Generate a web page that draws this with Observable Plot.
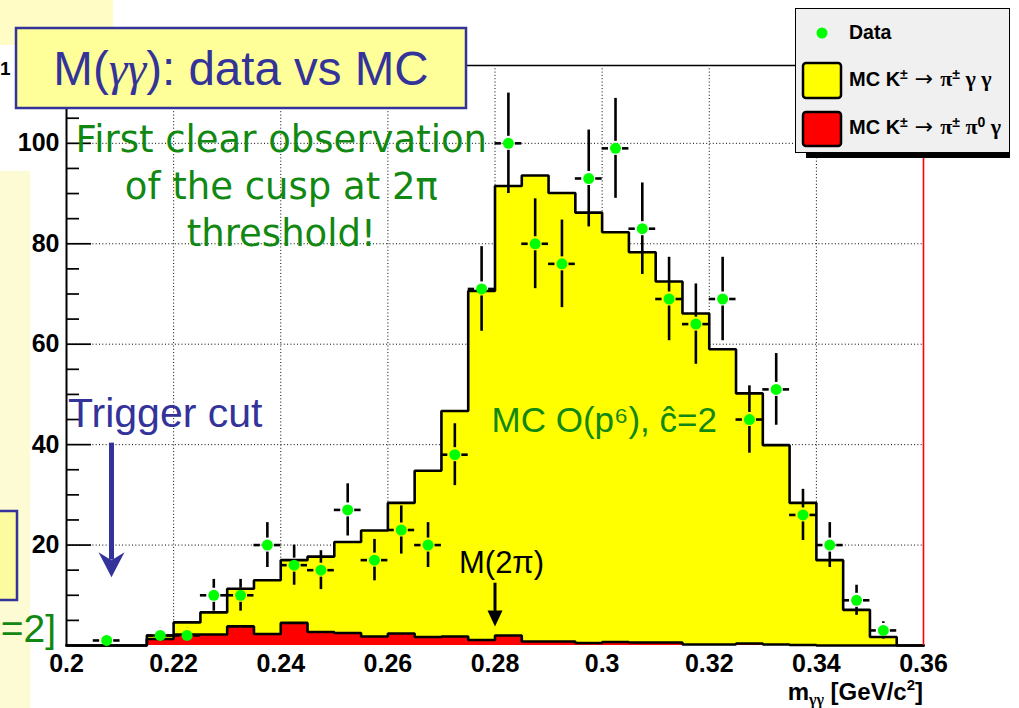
<!DOCTYPE html>
<html>
<head>
<meta charset="utf-8">
<script src="https://cdn.jsdelivr.net/npm/d3@7"></script>
<script src="https://cdn.jsdelivr.net/npm/@observablehq/plot@0.6"></script>
<style>
  html, body { margin: 0; padding: 0; background: #ffffff; }
  #page { position: relative; width: 1019px; height: 708px; overflow: hidden; font-family: "Liberation Sans", Arial, sans-serif; }
  #page > svg { position: absolute; left: 0; top: 0; }
</style>
</head>
<body>
<div id="page">
  <!-- slide background pieces -->
  <svg id="back" width="1019" height="708">
    <rect x="0" y="0" width="113" height="45" fill="#fffcc6"/>
    <rect x="0" y="171" width="30" height="537" fill="#fdfbd4"/>
    <rect x="-10" y="511" width="27" height="89" fill="#fdfba0" stroke="#333399" stroke-width="2.5"/>
    <text x="56" y="642" text-anchor="end" font-family="Liberation Sans" font-size="39" fill="#118811">=2]</text>
    <text x="0" y="75" text-anchor="start" font-family="Liberation Sans" font-weight="bold" font-size="19" fill="#000">1</text>
  </svg>
</div>
<script>
// Histogram binning in m_gg (GeV/c^2): 32 bins of 5 MeV
const binEdges = [0.200, 0.205, 0.210, 0.215, 0.220, 0.225, 0.230, 0.235, 0.240, 0.245, 0.250,
                  0.255, 0.260, 0.265, 0.270, 0.275, 0.280, 0.285, 0.290, 0.295, 0.300, 0.305,
                  0.310, 0.315, 0.320, 0.325, 0.330, 0.335, 0.340, 0.345, 0.350, 0.355, 0.360];

// MC K -> pi pi0 gamma background (bottom of the stack, red)
const mcPiPi0Gamma = [0, 0, 0, 1.3, 2.2, 2.2, 3.8, 2.3, 4.5, 2.7, 2.5, 1.8, 2.4, 1.7, 1.8, 1.1,
                      2.0, 0.8, 0.8, 0.5, 0.7, 0.6, 0.6, 0.2, 0.2, 0.4, 0.2, 0.1, 0, 0, 0, 0];

// MC K -> pi gamma gamma signal, O(p^6) with c-hat = 2 (stacked on top, yellow)
const mcPiGammaGamma = [0, 0, 0, 0.7, 2.4, 4.4, 7.5, 10.7, 12.5, 15.0, 18.1, 21.1, 26.0, 33.1, 44.9, 69.5,
                        89.5, 92.8, 89.3, 85.7, 81.6, 77.7, 71.9, 65.9, 58.8, 49.8, 39.7, 28.3, 17.0, 7.1, 1.7, 0];

// Data: bin centres and event counts
const dataCenters = [0.2075, 0.2175, 0.2225, 0.2275, 0.2325, 0.2375, 0.2425, 0.2475, 0.2525, 0.2575,
                     0.2625, 0.2675, 0.2725, 0.2775, 0.2825, 0.2875, 0.2925, 0.2975, 0.3025, 0.3075,
                     0.3125, 0.3175, 0.3225, 0.3275, 0.3325, 0.3375, 0.3425, 0.3475, 0.3525];
const dataCounts = [1, 2, 2, 10, 10, 20, 16, 15, 27, 17, 23, 20, 38, 71, 100, 80, 76, 93, 99, 83,
                    69, 64, 69, 45, 51, 26, 20, 9, 3];

// Axes
const xTicks = [0.20, 0.22, 0.24, 0.26, 0.28, 0.30, 0.32, 0.34, 0.36];
const xTickLabels = ["0.2", "0.22", "0.24", "0.26", "0.28", "0.3", "0.32", "0.34", "0.36"];
const xGrid = [0.22, 0.24, 0.26, 0.28, 0.30, 0.32, 0.34];
const yTicks = [20, 40, 60, 80, 100];
const yTickLabels = ["20", "40", "60", "80", "100"];
const yMajorTicks = [0, 20, 40, 60, 80, 100];
const yMinorTicks = d3.range(0, 116, 5).filter(v => v % 20 !== 0);
const xDomain = [0.20, 0.36];
const yDomain = [0, 115.5];

// Annotated positions
const triggerCut = 0.2084;
const mass2Pi = 0.280;

// ---- derived tables ----
const bins = binEdges.slice(0, -1).map((lo, i) => ({
  lo, hi: binEdges[i + 1],
  pi0: mcPiPi0Gamma[i],
  total: mcPiPi0Gamma[i] + mcPiGammaGamma[i]
}));
const halfBin = (binEdges[1] - binEdges[0]) / 2;

function stepOutline(values) {
  const pts = [{x: binEdges[0], y: 0}];
  values.forEach((v, i) => { pts.push({x: binEdges[i], y: v}, {x: binEdges[i + 1], y: v}); });
  pts.push({x: binEdges[binEdges.length - 1], y: 0});
  return pts;
}

const points = dataCenters.map((x, i) => ({x, n: dataCounts[i], err: Math.sqrt(dataCounts[i])}));

const W = 1019, H = 708;
const mL = 66, mR = 96, mT = 65, mB = 63;
const plotW = W - mL - mR;
const gap = 7;               // gap between marker centre and error bar
const ink = "#000000";
const green = "#118811";
const navy = "#333399";

// Arrow heads pointing down, with the tip at the dot position
const headPlain = (w, h) => ({draw(ctx) {
  ctx.moveTo(0, 0); ctx.lineTo(-w / 2, -h); ctx.lineTo(w / 2, -h); ctx.closePath();
}});
const headNotched = (w, h, notch) => ({draw(ctx) {
  ctx.moveTo(0, 0); ctx.lineTo(-w / 2, -h); ctx.lineTo(0, -h + notch); ctx.lineTo(w / 2, -h); ctx.closePath();
}});

const xLabel = new Map(xTicks.map((t, i) => [t, xTickLabels[i]]));
const yLabel = new Map(yTicks.map((t, i) => [t, yTickLabels[i]]));

const chart = Plot.plot({
  width: W, height: H,
  marginLeft: mL, marginRight: mR, marginTop: mT, marginBottom: mB,
  style: {background: "transparent", fontFamily: "Liberation Sans, Arial, sans-serif", overflow: "visible"},
  x: {domain: xDomain},
  y: {domain: yDomain},
  marks: [
    // dotted grid
    Plot.ruleX(xGrid, {x: d => d, stroke: ink, strokeWidth: 1, strokeDasharray: "1,2.3"}),
    Plot.ruleY(yTicks, {y: d => d, stroke: ink, strokeWidth: 1, strokeDasharray: "1,2.3"}),

    // stacked MC histograms
    Plot.rectY(bins, {x1: "lo", x2: "hi", y1: 0, y2: "pi0", fill: "#ff0000", shapeRendering: "crispEdges"}),
    Plot.rectY(bins, {x1: "lo", x2: "hi", y1: "pi0", y2: "total", fill: "#ffff00", shapeRendering: "crispEdges"}),
    Plot.line(stepOutline(bins.map(b => b.total)), {x: "x", y: "y", stroke: ink, strokeWidth: 2.6, strokeLinejoin: "miter"}),
    Plot.line(stepOutline(bins.map(b => b.pi0)), {x: "x", y: "y", stroke: ink, strokeWidth: 2.6, strokeLinejoin: "miter"}),

    // frame
    Plot.ruleY([yDomain[1]], {y: d => d, stroke: ink, strokeWidth: 1.4}),
    Plot.ruleX([xDomain[1]], {x: d => d, stroke: "#ff0000", strokeWidth: 1.6}),
    Plot.ruleX([xDomain[0]], {x: d => d, stroke: ink, strokeWidth: 2}),

    // inward y ticks
    Plot.ruleY(yMajorTicks, {y: d => d, x1: xDomain[0], x2: xDomain[1], insetRight: plotW - 25, stroke: ink, strokeWidth: 1.7}),
    Plot.ruleY(yMinorTicks, {y: d => d, x1: xDomain[0], x2: xDomain[1], insetRight: plotW - 13, stroke: ink, strokeWidth: 1.7}),

    // axes labels
    Plot.axisX({ticks: xTicks, tickFormat: d => xLabel.get(d), tickSize: 0, tickPadding: 9,
      fontSize: 25, fontWeight: "bold", fill: ink, label: null}),
    Plot.axisY({ticks: yTicks, tickFormat: d => yLabel.get(d), tickSize: 0, tickPadding: 7,
      fontSize: 25, fontWeight: "bold", fill: ink, label: null}),

    // data error bars (broken around the marker) and markers
    Plot.ruleX(points.filter(d => d.n >= 2), {x: "x", y1: d => d.n + d.err, y2: "n", insetBottom: gap, stroke: ink, strokeWidth: 2.6}),
    Plot.ruleX(points.filter(d => d.n >= 2), {x: "x", y1: "n", y2: d => d.n - d.err, insetTop: gap, stroke: ink, strokeWidth: 2.6}),
    Plot.ruleY(points, {y: "n", x1: d => d.x - halfBin, x2: "x", insetRight: gap, stroke: ink, strokeWidth: 2.6}),
    Plot.ruleY(points, {y: "n", x1: "x", x2: d => d.x + halfBin, insetLeft: gap, stroke: ink, strokeWidth: 2.6}),
    Plot.dot(points, {x: "x", y: "n", r: 5.5, fill: "#00ff00", stroke: null}),

    // annotations
    Plot.text(["First clear observation\nof the cusp at 2\u03c0\nthreshold!"], {
      x: 0.2401, y: 79.6, lineAnchor: "bottom", lineHeight: 1.27, textAnchor: "middle",
      fontSize: 37, fontFamily: "DejaVu Sans", fill: green}),
    Plot.text(["MC O(p\u2076), \u0109=2"], {x: 0.27935, y: 42.5, textAnchor: "start", lineAnchor: "bottom",
      fontSize: 35, fill: green}),
    Plot.text(["Trigger cut"], {x: 0.20028, y: 43.5, textAnchor: "start", lineAnchor: "bottom",
      fontSize: 41, fill: navy}),
    Plot.ruleX([triggerCut], {x: d => d, y1: 40.3, y2: 17.0, stroke: navy, strokeWidth: 5}),
    Plot.dot([triggerCut], {x: d => d, y: 13.6, r: 1, symbol: headNotched(26, 25, 8), fill: navy, stroke: null}),
    Plot.text(["M(2\u03c0)"], {x: 0.28122, y: 14.4, textAnchor: "middle", lineAnchor: "bottom",
      fontSize: 31, fill: ink}),
    Plot.ruleX([mass2Pi], {x: d => d, y1: 12.4, y2: 6.8, stroke: ink, strokeWidth: 3}),
    Plot.dot([mass2Pi], {x: d => d, y: 3.8, r: 1, symbol: headPlain(15, 16), fill: ink, stroke: null})
  ]
});
document.getElementById("page").appendChild(chart);

// Title box, legend and axis title drawn on top of the chart
const arrowFont = 'font-family="DejaVu Sans" font-weight="normal" font-size="22"';
const greekFont = 'font-family="Liberation Serif" font-size="22"';
const overlay = `
<svg id="front" width="1019" height="708">
  <rect x="16" y="28" width="450" height="80" fill="#ffff99" stroke="${navy}" stroke-width="2.5"/>
  <text x="241" y="85" text-anchor="middle" font-family="Liberation Sans" font-size="47.5" fill="${navy}">M(<tspan font-family="Liberation Serif" font-style="italic">\u03b3\u03b3</tspan>): data vs MC</text>

  <rect x="806" y="152" width="204" height="6" fill="#000"/>
  <rect x="795.5" y="8.5" width="214" height="144" fill="#f0f0f0" stroke="#000" stroke-width="1"/>
  <circle cx="822" cy="33" r="5.5" fill="#00ff00"/>
  <text x="849" y="39" font-family="Liberation Sans" font-weight="bold" font-size="19.5" fill="#000">Data</text>
  <rect x="803" y="63" width="38" height="35" rx="3" fill="#ffff00" stroke="#000" stroke-width="2.5"/>
  <text x="849" y="86" font-family="Liberation Sans" font-weight="bold" font-size="20" fill="#000">MC K<tspan font-size="14" dy="-7">\u00b1</tspan><tspan dy="7" ${arrowFont}> \u2192 </tspan><tspan ${greekFont}>\u03c0</tspan><tspan font-size="14" dy="-7">\u00b1</tspan><tspan dy="7" ${greekFont}> \u03b3 \u03b3</tspan></text>
  <rect x="803" y="112" width="38" height="34" rx="3" fill="#ff0000" stroke="#000" stroke-width="2.5"/>
  <text x="849" y="134" font-family="Liberation Sans" font-weight="bold" font-size="20" fill="#000">MC K<tspan font-size="14" dy="-7">\u00b1</tspan><tspan dy="7" ${arrowFont}> \u2192 </tspan><tspan ${greekFont}>\u03c0</tspan><tspan font-size="14" dy="-7">\u00b1</tspan><tspan dy="7" ${greekFont}> \u03c0</tspan><tspan font-size="14" dy="-7">0</tspan><tspan dy="7" ${greekFont}> \u03b3</tspan></text>

  <text x="923" y="700" text-anchor="end" font-family="Liberation Sans" font-weight="bold" font-size="24" fill="#000">m<tspan font-size="16" dy="5" font-family="Liberation Serif">\u03b3\u03b3</tspan><tspan dy="-5"> [GeV/c</tspan><tspan font-size="15" dy="-10">2</tspan><tspan dy="10">]</tspan></text>
</svg>`;
document.getElementById("page").insertAdjacentHTML("beforeend", overlay);
</script>
</body>
</html>
